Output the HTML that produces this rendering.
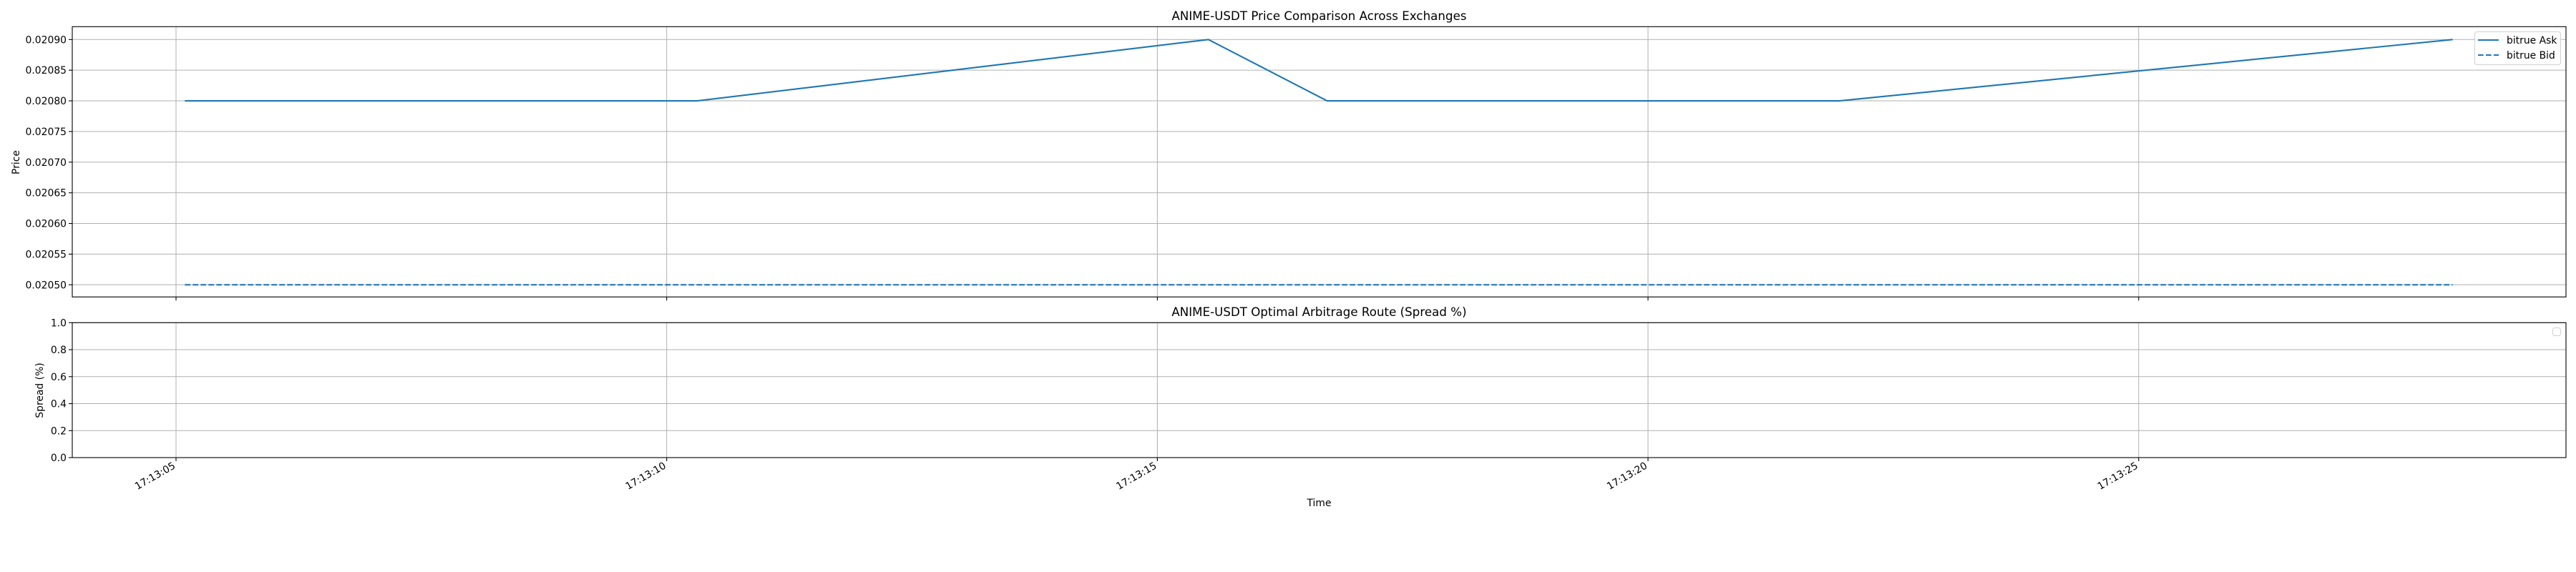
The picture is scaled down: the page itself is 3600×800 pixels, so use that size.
<!DOCTYPE html>
<html><head><meta charset="utf-8"><style>
html,body{margin:0;padding:0;background:#fff}
svg{display:block;font-family:"DejaVu Sans","Liberation Sans",sans-serif}
</style></head><body>
<svg id="chart" width="3600" height="800" viewBox="0 0 3600 800" xmlns="http://www.w3.org/2000/svg">
<rect width="3600" height="800" fill="#fff"/>
<g id="topPanel"></g>
<g id="botPanel"></g>
</svg>
<script>
const askTimes = [5.09, 10.31, 15.52, 16.73, 21.95, 28.2];
const askValues = [0.0208, 0.0208, 0.0209, 0.0208, 0.0208, 0.0209];
const bidTimes = [5.09, 28.2];
const bidValues = [0.0205, 0.0205];
const xTickSeconds = [5, 10, 15, 20, 25];
const xTickLabels = ["17:13:05", "17:13:10", "17:13:15", "17:13:20", "17:13:25"];
const priceTicks = [0.0205, 0.02055, 0.0206, 0.02065, 0.0207, 0.02075, 0.0208, 0.02085, 0.0209];
const spreadTicks = [0, 0.2, 0.4, 0.6, 0.8, 1.0];

const NS = "http://www.w3.org/2000/svg";
const L = 101, R = 3586;
const T1 = 37.3, B1 = 415.3, T2 = 451.3, B2 = 640;
const xs = t => 246 + (t - 5) * 137.14;
const y1 = v => 398.3 + (v - 0.0205) / 0.0004 * (55.3 - 398.3);
const y2 = v => B2 - v * (B2 - T2);
function el(tag, attrs, parent, text) {
  const e = document.createElementNS(NS, tag);
  for (const k in attrs) e.setAttribute(k, attrs[k]);
  if (text !== undefined) e.textContent = text;
  parent.appendChild(e);
  return e;
}
const gTop = document.getElementById('topPanel'), gBot = document.getElementById('botPanel');

[[gTop, T1, B1], [gBot, T2, B2]].forEach(([g, t, b]) => {
  xTickSeconds.forEach(s => {
    const gl = el('line', {x1: xs(s), x2: xs(s), y1: t, y2: b, stroke: '#b0b0b0', 'stroke-width': 1}, g);
    
    
    const tk = el('line', {x1: xs(s), x2: xs(s), y1: b, y2: b + 5, stroke: '#000', 'stroke-width': 1.1}, g);
    
    
  });
});
priceTicks.forEach(v => {
  const y = y1(v);
  const gl = el('line', {x1: L, x2: R, y1: y, y2: y, stroke: '#b0b0b0', 'stroke-width': 1}, gTop);
  
  
  el('line', {x1: L - 5, x2: L, y1: y, y2: y, stroke: '#000', 'stroke-width': 1.1}, gTop);
  const tx = el('text', {x: L - 8, y: y + 5, 'text-anchor': 'end', 'font-size': 13.9}, gTop, v.toFixed(5));
  
  
});
spreadTicks.forEach(v => {
  const y = y2(v);
  const gl = el('line', {x1: L, x2: R, y1: y, y2: y, stroke: '#b0b0b0', 'stroke-width': 1}, gBot);
  
  
  el('line', {x1: L - 5, x2: L, y1: y, y2: y, stroke: '#000', 'stroke-width': 1.1}, gBot);
  const tx = el('text', {x: L - 8, y: y + 5, 'text-anchor': 'end', 'font-size': 13.9}, gBot, v.toFixed(1));
  
  
});
xTickSeconds.forEach((s, i) => {
  const x = xs(s), y = B2 + 14;
  const tx = el('text', {x: x, y: y, 'text-anchor': 'end', 'font-size': 13.9, transform: `rotate(-30 ${x} ${y})`}, gBot, xTickLabels[i]);
  
  
});

const ask = el('polyline', {points: askTimes.map((t, i) => xs(t) + ',' + y1(askValues[i])).join(' '), fill: 'none', stroke: '#1f77b4', 'stroke-width': 2.1}, gTop);


const bid = el('polyline', {points: bidTimes.map((t, i) => xs(t) + ',' + y1(bidValues[i])).join(' '), fill: 'none', stroke: '#1f77b4', 'stroke-width': 2.1, 'stroke-dasharray': '7.7 3.3'}, gTop);



const f1 = el('rect', {x: L, y: T1, width: R - L, height: B1 - T1, fill: 'none', stroke: '#000', 'stroke-width': 1.1}, gTop);


const f2 = el('rect', {x: L, y: T2, width: R - L, height: B2 - T2, fill: 'none', stroke: '#000', 'stroke-width': 1.1}, gBot);



let t;
t = el('text', {x: 1843.5, y: 28, 'text-anchor': 'middle', 'font-size': 16.7}, gTop, 'ANIME-USDT Price Comparison Across Exchanges');
 
t = el('text', {x: 1843.5, y: 442, 'text-anchor': 'middle', 'font-size': 16.7}, gBot, 'ANIME-USDT Optimal Arbitrage Route (Spread %)');
 
t = el('text', {x: 1843.5, y: 708, 'text-anchor': 'middle', 'font-size': 13.9}, gBot, 'Time');
 
t = el('text', {x: 0, y: 0, 'text-anchor': 'middle', 'font-size': 13.9, transform: 'translate(27 227) rotate(-90)'}, gTop, 'Price');
 
t = el('text', {x: 0, y: 0, 'text-anchor': 'middle', 'font-size': 13.9, transform: 'translate(60 546) rotate(-90)'}, gBot, 'Spread (%)');
 

const lg = el('g', {}, gTop);


el('rect', {x: 3458.5, y: 44.5, width: 120, height: 46, rx: 3, fill: '#fff', 'fill-opacity': 0.8, stroke: '#d0d0d0'}, lg);
const e1 = el('line', {x1: 3463, x2: 3492, y1: 56, y2: 56, stroke: '#1f77b4', 'stroke-width': 2.1}, lg);
 
const l1 = el('text', {x: 3503, y: 61, 'font-size': 13.9}, lg, 'bitrue Ask');
 
const e2 = el('line', {x1: 3463, x2: 3492, y1: 77, y2: 77, stroke: '#1f77b4', 'stroke-width': 2.1, 'stroke-dasharray': '7.7 3.3'}, lg);
 
const l2 = el('text', {x: 3503, y: 82, 'font-size': 13.9}, lg, 'bitrue Bid');
 
const el2 = el('rect', {x: 3567.5, y: 458.5, width: 11, height: 11, rx: 3, fill: '#fff', stroke: '#d0d0d0'}, gBot);


</script>
</body></html>
